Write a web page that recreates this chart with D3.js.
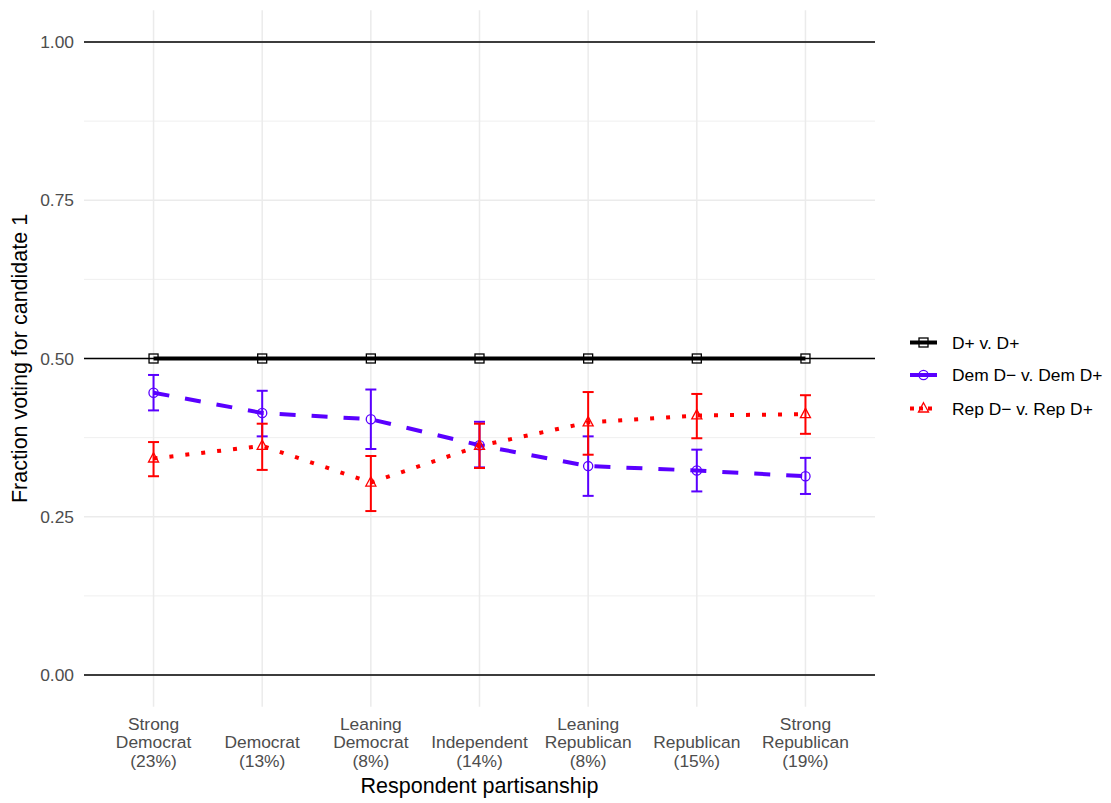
<!DOCTYPE html>
<html>
<head>
<meta charset="utf-8">
<script src="https://cdn.jsdelivr.net/npm/d3@7"></script>
<style>
  html, body { margin: 0; padding: 0; background: #fff; }
  svg { display: block; font-family: "Liberation Sans", Arial, sans-serif; }
</style>
</head>
<body>
<svg id="chart" width="1111" height="803"></svg>
<script>
// Respondent partisanship groups (label lines) on the x axis
const categories = ["SD", "D", "LD", "I", "LR", "R", "SR"];
const categoryLabels = [
  ["Strong", "Democrat", "(23%)"],
  ["Democrat", "(13%)"],
  ["Leaning", "Democrat", "(8%)"],
  ["Independent", "(14%)"],
  ["Leaning", "Republican", "(8%)"],
  ["Republican", "(15%)"],
  ["Strong", "Republican", "(19%)"]
];

// Fraction voting for candidate 1, with confidence limits
const ddMean  = [0.500, 0.500, 0.500, 0.500, 0.500, 0.500, 0.500];
const demMean = [0.446, 0.414, 0.404, 0.363, 0.330, 0.323, 0.314];
const demLow  = [0.418, 0.377, 0.357, 0.328, 0.283, 0.290, 0.286];
const demHigh = [0.474, 0.449, 0.451, 0.400, 0.377, 0.356, 0.343];
const repMean = [0.342, 0.362, 0.304, 0.362, 0.399, 0.410, 0.412];
const repLow  = [0.314, 0.324, 0.259, 0.327, 0.348, 0.374, 0.381];
const repHigh = [0.368, 0.397, 0.346, 0.397, 0.447, 0.444, 0.442];

const seriesNames = ["D+ v. D+", "Dem D\u2212 v. Dem D+", "Rep D\u2212 v. Rep D+"];
const yTicks = [0, 0.25, 0.5, 0.75, 1];
const yMinor = [0.125, 0.375, 0.625, 0.875];
const refLines = [0, 0.5, 1];

const svg = d3.select("#chart");
const panel = { left: 84, right: 875 };
const tickFont = 17.4, titleFont = 21.5;

const x = d3.scalePoint().domain(categories).range([panel.left, panel.right]).padding(0.64);
const y = d3.scaleLinear().domain([-0.05, 1.05]).range([706.65, 10.35]);

const grid = svg.append("g");
grid.selectAll("line.minor").data(yMinor).join("line")
  .attr("x1", panel.left).attr("x2", panel.right)
  .attr("y1", d => y(d)).attr("y2", d => y(d))
  .attr("stroke", "#EBEBEB").attr("stroke-width", 0.8);
grid.selectAll("line.major").data(yTicks).join("line")
  .attr("x1", panel.left).attr("x2", panel.right)
  .attr("y1", d => y(d)).attr("y2", d => y(d))
  .attr("stroke", "#EBEBEB").attr("stroke-width", 1.5);
grid.selectAll("line.vert").data(categories).join("line")
  .attr("x1", d => x(d)).attr("x2", d => x(d))
  .attr("y1", y(1.05)).attr("y2", y(-0.05))
  .attr("stroke", "#EBEBEB").attr("stroke-width", 1.5);

// reference lines
svg.append("g").selectAll("line").data(refLines).join("line")
  .attr("x1", panel.left).attr("x2", panel.right)
  .attr("y1", d => y(d)).attr("y2", d => y(d))
  .attr("stroke", "#000").attr("stroke-width", 1.6);

// y axis labels
const yAxis = svg.append("g").attr("transform", `translate(${panel.left},0)`)
  .call(d3.axisLeft(y).tickValues(yTicks).tickFormat(d3.format(".2f")).tickSize(0).tickPadding(10));
yAxis.select(".domain").remove();
yAxis.selectAll("text").attr("font-size", tickFont).attr("fill", "#4D4D4D")
  .attr("font-family", "'Liberation Sans', Arial, sans-serif");

// x axis labels (multi-line, bottom lines aligned)
const lineH = 18.5;
const lastBaseline = 766.5;
const xl = svg.append("g");
categories.forEach((c, i) => {
  const lines = categoryLabels[i];
  const t = xl.append("text").attr("text-anchor", "middle")
    .attr("font-size", tickFont).attr("fill", "#4D4D4D");
  lines.forEach((s, j) => {
    t.append("tspan").attr("x", x(c))
      .attr("y", lastBaseline - (lines.length - 1 - j) * lineH)
      .text(s);
  });
});

svg.append("text").attr("x", (panel.left + panel.right) / 2) .attr("y", 793)
  .attr("text-anchor", "middle").attr("font-size", titleFont).attr("fill", "#000")
  .text("Respondent partisanship");
svg.append("text").attr("transform", `translate(27,${y(0.5)}) rotate(-90)`)
  .attr("text-anchor", "middle").attr("font-size", titleFont).attr("fill", "#000")
  .text("Fraction voting for candidate 1");

const line = d3.line().x((d, i) => x(categories[i])).y(d => y(d));
const capHalf = 5.5;

function errorBars(lo, hi, color) {
  const g = svg.append("g").attr("stroke", color).attr("stroke-width", 2).attr("fill", "none");
  categories.forEach((c, i) => {
    const cx = x(c);
    g.append("line").attr("x1", cx).attr("x2", cx).attr("y1", y(lo[i])).attr("y2", y(hi[i]));
    g.append("line").attr("x1", cx - capHalf).attr("x2", cx + capHalf).attr("y1", y(lo[i])).attr("y2", y(lo[i]));
    g.append("line").attr("x1", cx - capHalf).attr("x2", cx + capHalf).attr("y1", y(hi[i])).attr("y2", y(hi[i]));
  });
}

function marker(g, shape, cx, cy, color) {
  if (shape === "square") {
    g.append("rect").attr("x", cx - 4.5).attr("y", cy - 4.5).attr("width", 9).attr("height", 9)
      .attr("fill", "none").attr("stroke", color).attr("stroke-width", 1.3);
  } else if (shape === "circle") {
    g.append("circle").attr("cx", cx).attr("cy", cy).attr("r", 4.6)
      .attr("fill", "none").attr("stroke", color).attr("stroke-width", 1.3);
  } else {
    const r = 5.8;
    const pts = [[cx, cy - r], [cx + r * 0.866, cy + r * 0.6], [cx - r * 0.866, cy + r * 0.6]];
    g.append("path").attr("d", "M" + pts.map(p => p.join(",")).join("L") + "Z")
      .attr("fill", "none").attr("stroke", color).attr("stroke-width", 1.3);
  }
}

const series = [
  { name: seriesNames[0], mean: ddMean, color: "#000000", dash: null, shape: "square" },
  { name: seriesNames[1], mean: demMean, lo: demLow, hi: demHigh, color: "#5A00FF", dash: "16,16", shape: "circle" },
  { name: seriesNames[2], mean: repMean, lo: repLow, hi: repHigh, color: "#FF0000", dash: "4,12", shape: "triangle" }
];

series.forEach(s => {
  if (s.lo) errorBars(s.lo, s.hi, s.color);
  svg.append("path").datum(s.mean).attr("d", line)
    .attr("fill", "none").attr("stroke", s.color).attr("stroke-width", 4)
    .attr("stroke-dasharray", s.dash).attr("stroke-linecap", "butt");
  const g = svg.append("g");
  s.mean.forEach((v, i) => marker(g, s.shape, x(categories[i]), y(v), s.color));
});

// legend
const legend = svg.append("g");
const legendY = [342.5, 375, 408.5];
series.forEach((s, i) => {
  const ly = legendY[i];
  legend.append("line").attr("x1", 910).attr("x2", 937).attr("y1", ly).attr("y2", ly)
    .attr("stroke", s.color).attr("stroke-width", 4)
    .attr("stroke-dasharray", i === 2 ? "4,5" : null);
  marker(legend, s.shape, 923.5, ly, s.color);
  legend.append("text").attr("x", 952).attr("y", ly + 6).attr("font-size", tickFont)
    .attr("fill", "#000").text(s.name);
});
</script>
</body>
</html>
